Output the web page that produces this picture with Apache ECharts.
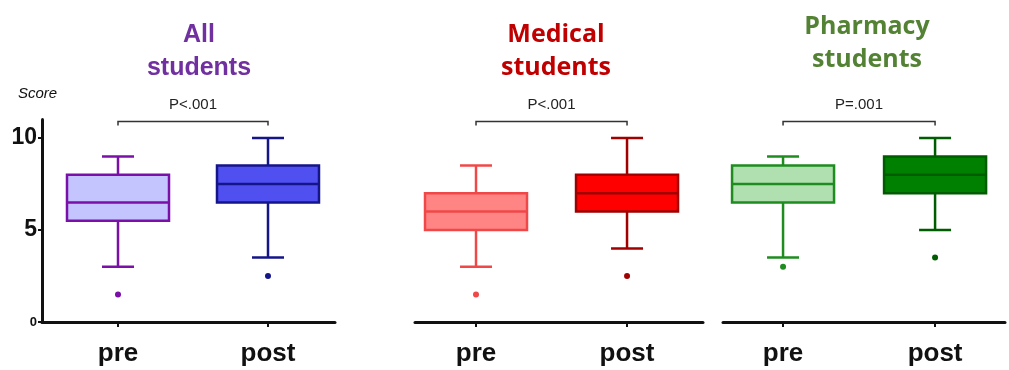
<!DOCTYPE html>
<html>
<head>
<meta charset="utf-8">
<script src="https://cdn.jsdelivr.net/npm/echarts@6/dist/echarts.min.js"></script>
<style>html,body{margin:0;padding:0;background:#fff;}#c{width:1009px;height:370px;}</style>
</head>
<body>
<div id="c"></div>
<script>
// ---- data ----
const categories = ['pre', 'post'];
const panelTitles = ['All\nstudents', 'Medical\nstudents', 'Pharmacy\nstudents'];
const pValues = ['P<.001', 'P<.001', 'P=.001'];
const yTicks = [0, 5, 10];
// [min, Q1, median, Q3, max]
const allPre  = [3, 5.5, 6.5, 8, 9];
const allPost = [3.5, 6.5, 7.5, 8.5, 10];
const medPre  = [3, 5, 6, 7, 8.5];
const medPost = [4, 6, 7, 8, 10];
const phaPre  = [3.5, 6.5, 7.5, 8.5, 9];
const phaPost = [5, 7, 8, 9, 10];
// outliers [pre, post]
const allOut = [1.5, 2.5];
const medOut = [1.5, 2.5];
const phaOut = [3, 3.5];
const bracketLevel = 10.9;

// ---- styling ----
const boxStats = [[allPre, allPost], [medPre, medPost], [phaPre, phaPost]];
const outliers = [allOut, medOut, phaOut];
const fills   = [['#C4C4FF', '#5050F0'], ['#FF8585', '#FF0000'], ['#B0E0B0', '#008000']];
const strokes = [['#7A10A8', '#15158A'], ['#F04848', '#A00000'], ['#1E8C1E', '#005C00']];
const titleColors = ['#7030A0', '#C00000', '#548235'];
const titleFonts = ['Liberation Sans', 'Open Sans', 'Open Sans'];
const titleLeft = [194, 551, 862];
const titleTop = [14, 13, 5];
const grids = [
  {left: 42, width: 293, xmin: 0.4933, xmax: 2.4467},
  {left: 415, width: 288, xmin: 0.596, xmax: 2.503},
  {left: 723, width: 282, xmin: 0.605, xmax: 2.46}
];

function boxRender(fill, stroke) {
  return function (params, api) {
    const x = api.value(0);
    const pMin = api.coord([x, api.value(1)]);
    const pQ1 = api.coord([x, api.value(2)]);
    const pMed = api.coord([x, api.value(3)]);
    const pQ3 = api.coord([x, api.value(4)]);
    const pMax = api.coord([x, api.value(5)]);
    const cx = pMin[0];
    const hw = 51, cw = 16, lw = 2.5;
    const ls = {stroke: stroke, lineWidth: lw};
    return {
      type: 'group',
      children: [
        {type: 'line', shape: {x1: cx, y1: pMax[1], x2: cx, y2: pQ3[1]}, style: ls},
        {type: 'line', shape: {x1: cx, y1: pQ1[1], x2: cx, y2: pMin[1]}, style: ls},
        {type: 'line', shape: {x1: cx - cw, y1: pMax[1], x2: cx + cw, y2: pMax[1]}, style: ls},
        {type: 'line', shape: {x1: cx - cw, y1: pMin[1], x2: cx + cw, y2: pMin[1]}, style: ls},
        {type: 'rect', shape: {x: cx - hw, y: pQ3[1], width: 2 * hw, height: pQ1[1] - pQ3[1]},
          style: {fill: fill, stroke: stroke, lineWidth: lw}},
        {type: 'line', shape: {x1: cx - hw, y1: pMed[1], x2: cx + hw, y2: pMed[1]}, style: ls}
      ]
    };
  };
}

function bracketRender(params, api) {
  const a = api.coord([api.value(0), api.value(2)]);
  const b = api.coord([api.value(1), api.value(2)]);
  const label = pValues[api.value(3)];
  return {
    type: 'group',
    children: [
      {type: 'polyline', shape: {points: [[a[0], a[1] + 4], [a[0], a[1]], [b[0], b[1]], [b[0], b[1] + 4]]},
        style: {stroke: '#333', lineWidth: 1.5, fill: null}},
      {type: 'text', x: (a[0] + b[0]) / 2, y: a[1] - 17,
        style: {text: label, font: '15px "Liberation Sans"', fill: '#222', align: 'center', verticalAlign: 'middle'}}
    ]
  };
}

const option = {
  animation: false,
  backgroundColor: '#fff',
  title: panelTitles.map((t, i) => ({
    text: t, left: titleLeft[i], top: titleTop[i], textAlign: 'center',
    textStyle: {color: titleColors[i], fontSize: 25, fontWeight: 'bold', fontFamily: titleFonts[i], lineHeight: 33, align: 'center'}
  })),
  graphic: [{
    type: 'text', left: 18, top: 86,
    style: {text: 'Score', font: 'italic 15px "Liberation Sans"', fill: '#111'}
  }],
  grid: grids.map(g => ({left: g.left, width: g.width, top: 119.6, bottom: 48})),
  xAxis: grids.map((g, i) => ({
    type: 'value', gridIndex: i, min: g.xmin, max: g.xmax,
    splitLine: {show: false},
    axisLine: {show: true, onZero: false, lineStyle: {color: '#111', width: 3}},
    axisTick: {show: true, customValues: [1, 2], length: 5, lineStyle: {color: '#111', width: 2}},
    axisLabel: {customValues: [1, 2], formatter: v => categories[Math.round(v) - 1] || '',
      margin: 19, fontSize: 26, fontWeight: 'bold', color: '#111', fontFamily: 'Liberation Sans'}
  })),
  yAxis: grids.map((g, i) => ({
    type: 'value', gridIndex: i, min: 0, max: 11, show: i === 0,
    splitLine: {show: false},
    axisLine: {show: true, lineStyle: {color: '#111', width: 3}},
    axisTick: {show: true, customValues: yTicks, length: 4, lineStyle: {color: '#111', width: 2}},
    axisLabel: {
      customValues: yTicks, margin: 5, fontFamily: 'Liberation Sans', color: '#111',
      formatter: v => v === 0 ? '{s|0}' : '{b|' + v + '}',
      rich: {b: {fontSize: 23, fontWeight: 'bold', color: '#111'}, s: {fontSize: 13, fontWeight: 'bold', color: '#111'}}
    }
  })),
  series: []
};

for (let p = 0; p < 3; p++) {
  for (let g = 0; g < 2; g++) {
    option.series.push({
      type: 'custom', xAxisIndex: p, yAxisIndex: p, clip: false,
      renderItem: boxRender(fills[p][g], strokes[p][g]),
      encode: {x: 0, y: [1, 2, 3, 4, 5]},
      data: [[g + 1].concat(boxStats[p][g])]
    });
    option.series.push({
      type: 'scatter', xAxisIndex: p, yAxisIndex: p, symbolSize: 6,
      itemStyle: {color: strokes[p][g], opacity: 1},
      data: [[g + 1, outliers[p][g]]]
    });
  }
  option.series.push({
    type: 'custom', xAxisIndex: p, yAxisIndex: p, clip: false,
    renderItem: bracketRender,
    encode: {x: [0, 1], y: 2},
    data: [[1, 2, bracketLevel, p]]
  });
}

const chart = echarts.init(document.getElementById('c'), null, {renderer: 'canvas'});
chart.setOption(option);
</script>
</body>
</html>
